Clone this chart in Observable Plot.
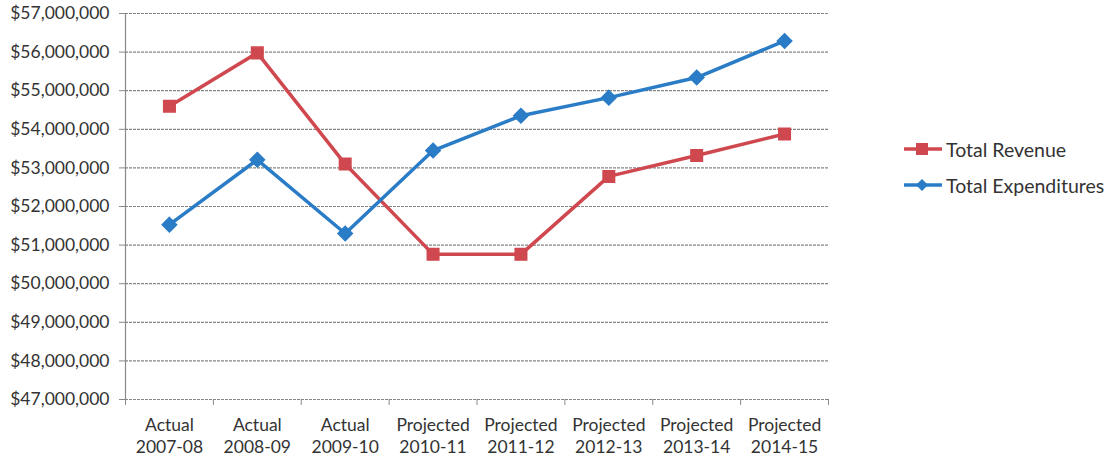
<!DOCTYPE html>
<html>
<head>
<meta charset="utf-8">
<script src="https://cdn.jsdelivr.net/npm/d3@7"></script>
<script src="https://cdn.jsdelivr.net/npm/@observablehq/plot@0.6"></script>
<style>
  html, body { margin: 0; padding: 0; background: #fff; }
  #wrap { position: relative; width: 1120px; height: 465px; font-family: Lato, "Liberation Sans", sans-serif; }
  #legend { position: absolute; left: 904px; top: 131px; font-size: 19.5px; color: #333; }
  .li { display: flex; align-items: center; height: 36px; }
  .li svg { margin-right: 4px; }
</style>
</head>
<body>
<div id="wrap"><div id="chart"></div><div id="legend"></div></div>
<script>
const periods = ["Actual\n2007-08", "Actual\n2008-09", "Actual\n2009-10", "Projected\n2010-11", "Projected\n2011-12", "Projected\n2012-13", "Projected\n2013-14", "Projected\n2014-15"];
const revenue = [54600000, 55980000, 53100000, 50760000, 50760000, 52780000, 53320000, 53880000];
const expenditures = [51530000, 53210000, 51300000, 53450000, 54350000, 54820000, 55340000, 56290000];
const yTicks = [47000000, 48000000, 49000000, 50000000, 51000000, 52000000, 53000000, 54000000, 55000000, 56000000, 57000000];
const seriesNames = ["Total Revenue", "Total Expenditures"];
const colors = ["#d0484f", "#2a7cc6"];

const rows = [];
periods.forEach((p, i) => {
  rows.push({i: i + 0.5, value: revenue[i], series: seriesNames[0]});
  rows.push({i: i + 0.5, value: expenditures[i], series: seriesNames[1]});
});
const rev = rows.filter(d => d.series === seriesNames[0]);
const exp = rows.filter(d => d.series === seriesNames[1]);
const bounds = d3.range(periods.length + 1);
const centers = periods.map((p, i) => i + 0.5);
const fmt = d3.format("$,.0f");

const chart = Plot.plot({
  width: 1120,
  height: 465,
  marginLeft: 125,
  marginRight: 292,
  marginTop: 13,
  marginBottom: 66,
  style: {fontFamily: "Lato, 'Liberation Sans', sans-serif", fontSize: "17.5px", color: "#333", background: "#fff"},
  x: {type: "linear", domain: [0, periods.length]},
  y: {domain: [47000000, 57000000]},
  marks: [
    Plot.gridY(yTicks, {stroke: "#666", strokeOpacity: 0.8, strokeWidth: 1.2, strokeDasharray: "3,1"}),
    Plot.ruleX([0], {stroke: "#888", strokeWidth: 1.2}),
    Plot.axisY({ticks: yTicks, tickFormat: fmt, tickSize: 6, tickPadding: 10, stroke: "#888", fontSize: 17.5, fill: "#333", label: null}),
    Plot.axisX({ticks: bounds, tickFormat: () => "", tickSize: 6, stroke: "#888", label: null}),
    Plot.axisX({ticks: centers, tickFormat: v => periods[Math.round(v - 0.5)], tickSize: 0, tickPadding: 16, fontSize: 17.5, fill: "#333", lineHeight: 1.25, label: null}),
    Plot.lineY(rev, {x: "i", y: "value", stroke: colors[0], strokeWidth: 3.5}),
    Plot.lineY(exp, {x: "i", y: "value", stroke: colors[1], strokeWidth: 3.5}),
    Plot.dot(rev, {x: "i", y: "value", symbol: "square", r: 6.5, fill: colors[0], stroke: colors[0]}),
    Plot.dot(exp, {x: "i", y: "value", symbol: "diamond2", r: 6.5, fill: colors[1], stroke: colors[1]})
  ]
});
document.getElementById("chart").appendChild(chart);

const legend = document.getElementById("legend");
seriesNames.forEach((name, k) => {
  const div = document.createElement("div");
  div.className = "li";
  const marker = k === 0
    ? `<rect x="12" y="5" width="12" height="12" fill="${colors[k]}"/>`
    : `<path d="M18,5 L24,11 L18,17 L12,11 Z" fill="${colors[k]}"/>`;
  div.innerHTML = `<svg width="38" height="22"><line x1="0" y1="11" x2="38" y2="11" stroke="${colors[k]}" stroke-width="3.5"/>${marker}</svg><span>${name}</span>`;
  legend.appendChild(div);
});
</script>
</body>
</html>
